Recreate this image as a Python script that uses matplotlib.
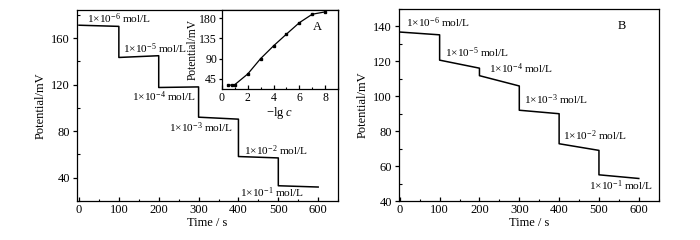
import numpy as np
import matplotlib
matplotlib.use("Agg")
from matplotlib import pyplot as plt
from matplotlib.ticker import MultipleLocator

plt.rcParams['font.family'] = ['Liberation Serif', 'DejaVu Serif']
plt.rcParams['mathtext.fontset'] = 'custom'
plt.rcParams['mathtext.rm'] = 'Liberation Serif'
plt.rcParams['mathtext.it'] = 'Liberation Serif:italic'
plt.rcParams['font.size'] = 9

# 各濃度区間の開始時間・終了時間
seg_start = [0, 100, 200, 300, 400, 500]
seg_end = [100, 200, 300, 400, 500, 600]
exps = [-6, -5, -4, -3, -2, -1]

# A: 各区間の始点・終点の電位 (mV)
a_begin = [171, 143.3, 117.5, 92, 58.2, 33.1]
a_end = [170, 144.8, 118, 90.3, 57, 32]

# B: 各区間の始点・終点の電位 (mV)
b_begin = [136.8, 120.7, 111.8, 92, 72.8, 55]
b_end = [135.2, 116.1, 105.9, 90, 69, 52.9]

# 挿入図: -lg c vs 電位
ins_x = [0.5, 0.75, 1, 2, 3, 4, 5, 6, 7, 8]
ins_y = [31, 31.5, 32.3, 56, 90.2, 118.5, 144.6, 170, 188.8, 194]

# ラベル位置 (データ座標)
a_lab_pos = [(19, 177), (111, 150.5), (134, 109.7), (227, 83), (415, 63.6), (403, 27)]
b_lab_pos = [(15, 142), (113, 125), (224, 115.7), (311, 97.9), (410, 77.4), (476, 49)]


def step_xy(begin, end):
    xs, ys = [], []
    for s, e, b, f in zip(seg_start, seg_end, begin, end):
        xs += [s, e]
        ys += [b, f]
    return xs, ys


def style_ax(ax):
    ax.tick_params(which='both', top=False, right=False, labelsize=9, pad=2)
    ax.tick_params(axis='x', which='both', direction='in')
    ax.tick_params(axis='y', which='major', direction='out')
    ax.tick_params(axis='y', which='minor', direction='in')
    ax.tick_params(which='major', length=3, width=0.9)
    ax.tick_params(which='minor', length=1.8, width=0.8)
    for sp in ax.spines.values():
        sp.set_linewidth(0.9)


def conc_label(e):
    return '1×10$^{%d}$ mol/L' % e


fig = plt.figure(figsize=(7, 2.4), dpi=100)

# ---- A ----
axA = fig.add_axes([0.110, 0.1625, 0.373, 0.7955])
xs, ys = step_xy(a_begin, a_end)
axA.plot(xs, ys, color='black', lw=1.1)
axA.set_xlim(-5, 650)
axA.set_ylim(20, 184)
axA.xaxis.set_major_locator(MultipleLocator(100))
axA.xaxis.set_minor_locator(MultipleLocator(50))
axA.yaxis.set_major_locator(MultipleLocator(40))
axA.yaxis.set_minor_locator(MultipleLocator(20))
style_ax(axA)
axA.set_xlabel('Time / s', fontsize=9, labelpad=1)
axA.set_ylabel('Potential/mV', fontsize=9, labelpad=3)
for e, (tx, ty) in zip(exps, a_lab_pos):
    axA.text(tx, ty, conc_label(e), ha='left', va='center', fontsize=8.2)

# 挿入図
axI = fig.add_axes([0.317, 0.628, 0.166, 0.330])
axI.plot(ins_x, ins_y, color='black', lw=0.9, marker='s', ms=1.8)
axI.set_xlim(0, 9)
axI.set_ylim(22, 198)
axI.xaxis.set_major_locator(MultipleLocator(2))
axI.xaxis.set_minor_locator(MultipleLocator(1))
axI.yaxis.set_major_locator(MultipleLocator(45))
style_ax(axI)
axI.tick_params(labelsize=8.5)
axI.tick_params(axis='y', pad=1, length=2.5)
axI.set_xlabel('$-$lg $c$', fontsize=9, labelpad=1)
axI.set_ylabel('Potential/mV', fontsize=8.3, labelpad=0)
axI.text(7.4, 161, 'A', ha='center', va='center', fontsize=9)

# ---- B ----
axB = fig.add_axes([0.570, 0.1625, 0.371, 0.8])
xs, ys = step_xy(b_begin, b_end)
axB.plot(xs, ys, color='black', lw=1.1)
axB.set_xlim(-2, 650)
axB.set_ylim(40, 150)
axB.xaxis.set_major_locator(MultipleLocator(100))
axB.xaxis.set_minor_locator(MultipleLocator(50))
axB.yaxis.set_major_locator(MultipleLocator(20))
axB.yaxis.set_minor_locator(MultipleLocator(10))
style_ax(axB)
axB.set_xlabel('Time / s', fontsize=9, labelpad=1)
axB.set_ylabel('Potential/mV', fontsize=9, labelpad=3)
for e, (tx, ty) in zip(exps, b_lab_pos):
    axB.text(tx, ty, conc_label(e), ha='left', va='center', fontsize=8.2)
axB.text(557, 140, 'B', ha='center', va='center', fontsize=9)

fig.savefig('out.png', dpi=100)
